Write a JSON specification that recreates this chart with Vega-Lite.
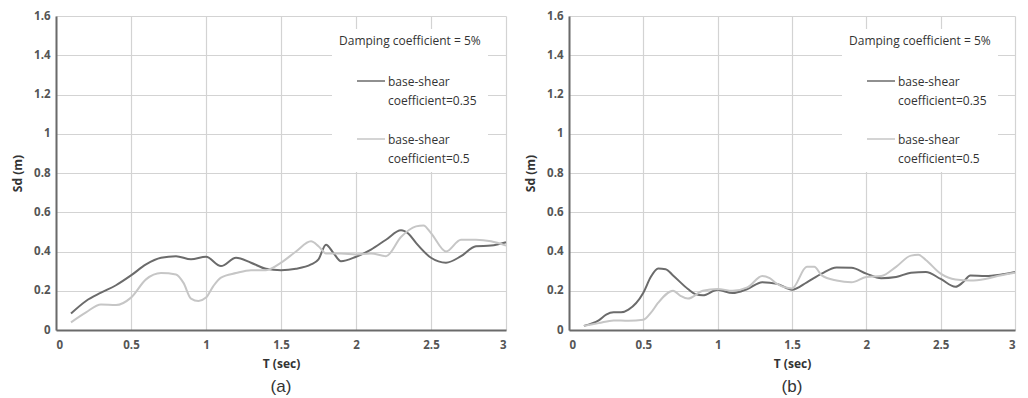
{
  "$schema": "https://vega.github.io/schema/vega-lite/v6.json",
  "padding": {"left": 11, "top": 10, "right": 6, "bottom": 0},
  "background": "white",
  "spacing": 14,
  "config": {
    "view": {"stroke": null},
    "font": "Open Sans",
    "axis": {
      "grid": true,
      "gridColor": "#d3d3d3",
      "gridWidth": 1.2,
      "ticks": false,
      "domainColor": "#6a6a6a",
      "domainWidth": 2,
      "labelFont": "Open Sans",
      "labelFontSize": 11.5,
      "labelFontWeight": "bold",
      "labelColor": "#555555",
      "titleFont": "Open Sans",
      "titleFontSize": 12,
      "titleFontWeight": "bold",
      "titleColor": "#333333",
      "format": "~g"
    },
    "legend": {
      "orient": "none",
      "fillColor": "white",
      "padding": 7,
      "titleFont": "Open Sans",
      "titleFontSize": 12,
      "titleFontWeight": "normal",
      "titleColor": "#333333",
      "titlePadding": 18,
      "labelFont": "Open Sans",
      "labelFontSize": 12,
      "labelColor": "#333333",
      "labelOffset": 2,
      "symbolType": "stroke",
      "symbolSize": 784,
      "symbolStrokeWidth": 1.5,
      "symbolOffset": 17,
      "rowPadding": 17,
      "labelLimit": 300
    },
    "title": {"orient": "bottom", "font": "Liberation Sans", "fontSize": 17, "fontWeight": "normal", "color": "#333333", "offset": 9, "anchor": "middle"}
  },
  "datasets": {
    "a": [
      {"T": 0.1, "Sd": 0.084, "series": "base-shear coefficient=0.35"},
      {"T": 0.2, "Sd": 0.148, "series": "base-shear coefficient=0.35"},
      {"T": 0.3, "Sd": 0.19, "series": "base-shear coefficient=0.35"},
      {"T": 0.4, "Sd": 0.228, "series": "base-shear coefficient=0.35"},
      {"T": 0.5, "Sd": 0.278, "series": "base-shear coefficient=0.35"},
      {"T": 0.6, "Sd": 0.334, "series": "base-shear coefficient=0.35"},
      {"T": 0.7, "Sd": 0.368, "series": "base-shear coefficient=0.35"},
      {"T": 0.8, "Sd": 0.376, "series": "base-shear coefficient=0.35"},
      {"T": 0.9, "Sd": 0.36, "series": "base-shear coefficient=0.35"},
      {"T": 1.0, "Sd": 0.373, "series": "base-shear coefficient=0.35"},
      {"T": 1.1, "Sd": 0.326, "series": "base-shear coefficient=0.35"},
      {"T": 1.2, "Sd": 0.368, "series": "base-shear coefficient=0.35"},
      {"T": 1.3, "Sd": 0.343, "series": "base-shear coefficient=0.35"},
      {"T": 1.4, "Sd": 0.312, "series": "base-shear coefficient=0.35"},
      {"T": 1.5, "Sd": 0.305, "series": "base-shear coefficient=0.35"},
      {"T": 1.6, "Sd": 0.312, "series": "base-shear coefficient=0.35"},
      {"T": 1.7, "Sd": 0.334, "series": "base-shear coefficient=0.35"},
      {"T": 1.75, "Sd": 0.36, "series": "base-shear coefficient=0.35"},
      {"T": 1.8, "Sd": 0.435, "series": "base-shear coefficient=0.35"},
      {"T": 1.85, "Sd": 0.392, "series": "base-shear coefficient=0.35"},
      {"T": 1.9, "Sd": 0.35, "series": "base-shear coefficient=0.35"},
      {"T": 2.0, "Sd": 0.373, "series": "base-shear coefficient=0.35"},
      {"T": 2.1, "Sd": 0.41, "series": "base-shear coefficient=0.35"},
      {"T": 2.2, "Sd": 0.46, "series": "base-shear coefficient=0.35"},
      {"T": 2.3, "Sd": 0.508, "series": "base-shear coefficient=0.35"},
      {"T": 2.35, "Sd": 0.49, "series": "base-shear coefficient=0.35"},
      {"T": 2.4, "Sd": 0.444, "series": "base-shear coefficient=0.35"},
      {"T": 2.5, "Sd": 0.368, "series": "base-shear coefficient=0.35"},
      {"T": 2.6, "Sd": 0.343, "series": "base-shear coefficient=0.35"},
      {"T": 2.7, "Sd": 0.376, "series": "base-shear coefficient=0.35"},
      {"T": 2.8, "Sd": 0.427, "series": "base-shear coefficient=0.35"},
      {"T": 2.9, "Sd": 0.43, "series": "base-shear coefficient=0.35"},
      {"T": 3.0, "Sd": 0.447, "series": "base-shear coefficient=0.35"},
      {"T": 0.1, "Sd": 0.039, "series": "base-shear coefficient=0.5"},
      {"T": 0.2, "Sd": 0.09, "series": "base-shear coefficient=0.5"},
      {"T": 0.3, "Sd": 0.13, "series": "base-shear coefficient=0.5"},
      {"T": 0.4, "Sd": 0.127, "series": "base-shear coefficient=0.5"},
      {"T": 0.5, "Sd": 0.165, "series": "base-shear coefficient=0.5"},
      {"T": 0.6, "Sd": 0.258, "series": "base-shear coefficient=0.5"},
      {"T": 0.7, "Sd": 0.29, "series": "base-shear coefficient=0.5"},
      {"T": 0.8, "Sd": 0.283, "series": "base-shear coefficient=0.5"},
      {"T": 0.85, "Sd": 0.24, "series": "base-shear coefficient=0.5"},
      {"T": 0.9, "Sd": 0.16, "series": "base-shear coefficient=0.5"},
      {"T": 0.95, "Sd": 0.148, "series": "base-shear coefficient=0.5"},
      {"T": 1.0, "Sd": 0.165, "series": "base-shear coefficient=0.5"},
      {"T": 1.05, "Sd": 0.225, "series": "base-shear coefficient=0.5"},
      {"T": 1.1, "Sd": 0.267, "series": "base-shear coefficient=0.5"},
      {"T": 1.2, "Sd": 0.29, "series": "base-shear coefficient=0.5"},
      {"T": 1.3, "Sd": 0.305, "series": "base-shear coefficient=0.5"},
      {"T": 1.4, "Sd": 0.305, "series": "base-shear coefficient=0.5"},
      {"T": 1.5, "Sd": 0.343, "series": "base-shear coefficient=0.5"},
      {"T": 1.6, "Sd": 0.4, "series": "base-shear coefficient=0.5"},
      {"T": 1.7, "Sd": 0.452, "series": "base-shear coefficient=0.5"},
      {"T": 1.75, "Sd": 0.427, "series": "base-shear coefficient=0.5"},
      {"T": 1.8, "Sd": 0.39, "series": "base-shear coefficient=0.5"},
      {"T": 1.9, "Sd": 0.39, "series": "base-shear coefficient=0.5"},
      {"T": 2.0, "Sd": 0.385, "series": "base-shear coefficient=0.5"},
      {"T": 2.1, "Sd": 0.39, "series": "base-shear coefficient=0.5"},
      {"T": 2.2, "Sd": 0.376, "series": "base-shear coefficient=0.5"},
      {"T": 2.3, "Sd": 0.474, "series": "base-shear coefficient=0.5"},
      {"T": 2.4, "Sd": 0.528, "series": "base-shear coefficient=0.5"},
      {"T": 2.45, "Sd": 0.533, "series": "base-shear coefficient=0.5"},
      {"T": 2.5, "Sd": 0.494, "series": "base-shear coefficient=0.5"},
      {"T": 2.6, "Sd": 0.4, "series": "base-shear coefficient=0.5"},
      {"T": 2.7, "Sd": 0.46, "series": "base-shear coefficient=0.5"},
      {"T": 2.8, "Sd": 0.46, "series": "base-shear coefficient=0.5"},
      {"T": 2.9, "Sd": 0.452, "series": "base-shear coefficient=0.5"},
      {"T": 3.0, "Sd": 0.43, "series": "base-shear coefficient=0.5"}
    ],
    "b": [
      {"T": 0.1, "Sd": 0.021, "series": "base-shear coefficient=0.35"},
      {"T": 0.2, "Sd": 0.049, "series": "base-shear coefficient=0.35"},
      {"T": 0.25, "Sd": 0.078, "series": "base-shear coefficient=0.35"},
      {"T": 0.3, "Sd": 0.09, "series": "base-shear coefficient=0.35"},
      {"T": 0.35, "Sd": 0.09, "series": "base-shear coefficient=0.35"},
      {"T": 0.4, "Sd": 0.104, "series": "base-shear coefficient=0.35"},
      {"T": 0.5, "Sd": 0.19, "series": "base-shear coefficient=0.35"},
      {"T": 0.55, "Sd": 0.27, "series": "base-shear coefficient=0.35"},
      {"T": 0.6, "Sd": 0.313, "series": "base-shear coefficient=0.35"},
      {"T": 0.65, "Sd": 0.31, "series": "base-shear coefficient=0.35"},
      {"T": 0.7, "Sd": 0.278, "series": "base-shear coefficient=0.35"},
      {"T": 0.8, "Sd": 0.209, "series": "base-shear coefficient=0.35"},
      {"T": 0.85, "Sd": 0.183, "series": "base-shear coefficient=0.35"},
      {"T": 0.9, "Sd": 0.177, "series": "base-shear coefficient=0.35"},
      {"T": 1.0, "Sd": 0.205, "series": "base-shear coefficient=0.35"},
      {"T": 1.1, "Sd": 0.188, "series": "base-shear coefficient=0.35"},
      {"T": 1.2, "Sd": 0.209, "series": "base-shear coefficient=0.35"},
      {"T": 1.3, "Sd": 0.243, "series": "base-shear coefficient=0.35"},
      {"T": 1.4, "Sd": 0.235, "series": "base-shear coefficient=0.35"},
      {"T": 1.5, "Sd": 0.205, "series": "base-shear coefficient=0.35"},
      {"T": 1.6, "Sd": 0.243, "series": "base-shear coefficient=0.35"},
      {"T": 1.7, "Sd": 0.287, "series": "base-shear coefficient=0.35"},
      {"T": 1.8, "Sd": 0.318, "series": "base-shear coefficient=0.35"},
      {"T": 1.9, "Sd": 0.317, "series": "base-shear coefficient=0.35"},
      {"T": 2.0, "Sd": 0.287, "series": "base-shear coefficient=0.35"},
      {"T": 2.1, "Sd": 0.264, "series": "base-shear coefficient=0.35"},
      {"T": 2.2, "Sd": 0.27, "series": "base-shear coefficient=0.35"},
      {"T": 2.3, "Sd": 0.292, "series": "base-shear coefficient=0.35"},
      {"T": 2.4, "Sd": 0.296, "series": "base-shear coefficient=0.35"},
      {"T": 2.5, "Sd": 0.26, "series": "base-shear coefficient=0.35"},
      {"T": 2.6, "Sd": 0.22, "series": "base-shear coefficient=0.35"},
      {"T": 2.65, "Sd": 0.243, "series": "base-shear coefficient=0.35"},
      {"T": 2.7, "Sd": 0.278, "series": "base-shear coefficient=0.35"},
      {"T": 2.8, "Sd": 0.275, "series": "base-shear coefficient=0.35"},
      {"T": 2.9, "Sd": 0.282, "series": "base-shear coefficient=0.35"},
      {"T": 3.0, "Sd": 0.296, "series": "base-shear coefficient=0.35"},
      {"T": 0.1, "Sd": 0.021, "series": "base-shear coefficient=0.5"},
      {"T": 0.2, "Sd": 0.035, "series": "base-shear coefficient=0.5"},
      {"T": 0.3, "Sd": 0.049, "series": "base-shear coefficient=0.5"},
      {"T": 0.4, "Sd": 0.047, "series": "base-shear coefficient=0.5"},
      {"T": 0.5, "Sd": 0.052, "series": "base-shear coefficient=0.5"},
      {"T": 0.55, "Sd": 0.087, "series": "base-shear coefficient=0.5"},
      {"T": 0.6, "Sd": 0.139, "series": "base-shear coefficient=0.5"},
      {"T": 0.7, "Sd": 0.2, "series": "base-shear coefficient=0.5"},
      {"T": 0.75, "Sd": 0.174, "series": "base-shear coefficient=0.5"},
      {"T": 0.8, "Sd": 0.16, "series": "base-shear coefficient=0.5"},
      {"T": 0.9, "Sd": 0.2, "series": "base-shear coefficient=0.5"},
      {"T": 1.0, "Sd": 0.209, "series": "base-shear coefficient=0.5"},
      {"T": 1.1, "Sd": 0.2, "series": "base-shear coefficient=0.5"},
      {"T": 1.2, "Sd": 0.217, "series": "base-shear coefficient=0.5"},
      {"T": 1.3, "Sd": 0.275, "series": "base-shear coefficient=0.5"},
      {"T": 1.35, "Sd": 0.264, "series": "base-shear coefficient=0.5"},
      {"T": 1.4, "Sd": 0.235, "series": "base-shear coefficient=0.5"},
      {"T": 1.5, "Sd": 0.212, "series": "base-shear coefficient=0.5"},
      {"T": 1.6, "Sd": 0.322, "series": "base-shear coefficient=0.5"},
      {"T": 1.65, "Sd": 0.322, "series": "base-shear coefficient=0.5"},
      {"T": 1.7, "Sd": 0.278, "series": "base-shear coefficient=0.5"},
      {"T": 1.8, "Sd": 0.252, "series": "base-shear coefficient=0.5"},
      {"T": 1.9, "Sd": 0.243, "series": "base-shear coefficient=0.5"},
      {"T": 2.0, "Sd": 0.27, "series": "base-shear coefficient=0.5"},
      {"T": 2.1, "Sd": 0.275, "series": "base-shear coefficient=0.5"},
      {"T": 2.2, "Sd": 0.322, "series": "base-shear coefficient=0.5"},
      {"T": 2.3, "Sd": 0.379, "series": "base-shear coefficient=0.5"},
      {"T": 2.35, "Sd": 0.383, "series": "base-shear coefficient=0.5"},
      {"T": 2.4, "Sd": 0.357, "series": "base-shear coefficient=0.5"},
      {"T": 2.5, "Sd": 0.287, "series": "base-shear coefficient=0.5"},
      {"T": 2.6, "Sd": 0.257, "series": "base-shear coefficient=0.5"},
      {"T": 2.7, "Sd": 0.252, "series": "base-shear coefficient=0.5"},
      {"T": 2.8, "Sd": 0.26, "series": "base-shear coefficient=0.5"},
      {"T": 2.9, "Sd": 0.278, "series": "base-shear coefficient=0.5"},
      {"T": 3.0, "Sd": 0.292, "series": "base-shear coefficient=0.5"}
    ]
  },
  "hconcat": [
    {
      "data": {"name": "a"},
      "width": 450,
      "height": 314,
      "title": {"text": "(a)"},
      "mark": {"type": "line", "interpolate": "monotone", "strokeWidth": 2},
      "encoding": {
        "x": {"field": "T", "type": "quantitative", "title": "T (sec)", "scale": {"domain": [0, 3], "nice": false}, "axis": {"values": [0, 0.5, 1, 1.5, 2, 2.5, 3], "labelPadding": 9, "titlePadding": 8}},
        "y": {"field": "Sd", "type": "quantitative", "title": "Sd (m)", "scale": {"domain": [0, 1.6], "nice": false}, "axis": {"values": [0, 0.2, 0.4, 0.6, 0.8, 1, 1.2, 1.4, 1.6], "labelPadding": 6, "titlePadding": 9}},
        "color": {"field": "series", "type": "nominal", "title": "Damping coefficient = 5%",
          "scale": {"domain": ["base-shear coefficient=0.35", "base-shear coefficient=0.5"], "range": ["#6b6b6b", "#c6c6c6"]},
          "legend": {"labelExpr": "split(datum.label, ' ')", "legendX": 276, "legendY": 13,
            "encode": {"labels": {"update": {"lineHeight": {"value": 19}, "dy": {"value": 1}}}}}
        }
      }
    },
    {
      "data": {"name": "b"},
      "width": 446,
      "height": 314,
      "title": {"text": "(b)"},
      "mark": {"type": "line", "interpolate": "monotone", "strokeWidth": 2},
      "encoding": {
        "x": {"field": "T", "type": "quantitative", "title": "T (sec)", "scale": {"domain": [0, 3], "nice": false}, "axis": {"values": [0, 0.5, 1, 1.5, 2, 2.5, 3], "labelPadding": 9, "titlePadding": 8}},
        "y": {"field": "Sd", "type": "quantitative", "title": "Sd (m)", "scale": {"domain": [0, 1.6], "nice": false}, "axis": {"values": [0, 0.2, 0.4, 0.6, 0.8, 1, 1.2, 1.4, 1.6], "labelPadding": 6, "titlePadding": 9}},
        "color": {"field": "series", "type": "nominal", "title": "Damping coefficient = 5%",
          "scale": {"domain": ["base-shear coefficient=0.35", "base-shear coefficient=0.5"], "range": ["#6b6b6b", "#c6c6c6"]},
          "legend": {"labelExpr": "split(datum.label, ' ')", "legendX": 273, "legendY": 13,
            "encode": {"labels": {"update": {"lineHeight": {"value": 19}, "dy": {"value": 1}}}}}
        }
      }
    }
  ],
  "resolve": {"scale": {"color": "independent"}, "legend": {"color": "independent"}}
}
